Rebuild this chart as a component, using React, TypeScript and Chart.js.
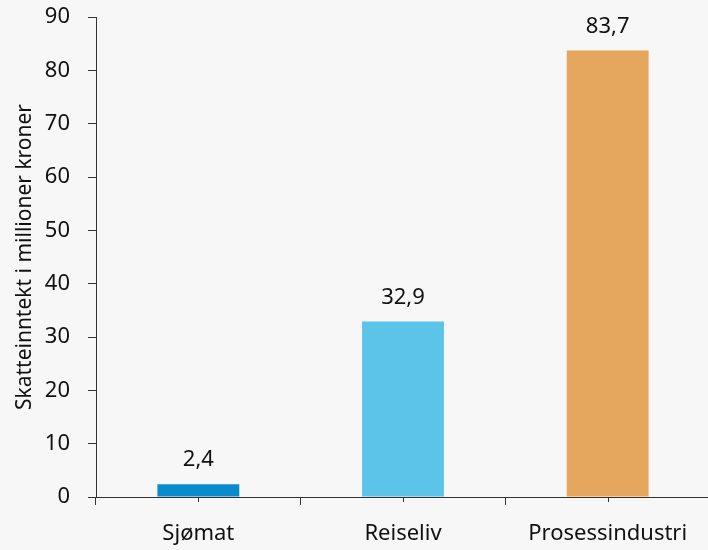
import React, { useEffect, useRef } from "react";
import { Chart, registerables } from "chart.js";

Chart.register(...registerables);

const categories = ["Sjømat", "Reiseliv", "Prosessindustri"];
const values = [2.4, 32.9, 83.7];
const barColors = ["#0a8bcd", "#5bc4e8", "#e5a75e"];
const yTitle = "Skatteinntekt i millioner kroner";

const FONT = "'Noto Sans', 'Open Sans', sans-serif";

const labelPlugin = {
  id: "valueLabels",
  afterDatasetsDraw(chart: any) {
    const ctx = chart.ctx;
    const meta = chart.getDatasetMeta(0);
    ctx.save();
    ctx.font = `22px ${FONT}`;
    ctx.fillStyle = "#111";
    ctx.textAlign = "center";
    ctx.textBaseline = "alphabetic";
    meta.data.forEach((bar: any, i: number) => {
      ctx.fillText(String(values[i]).replace(".", ","), bar.x, bar.y - 18);
    });
    ctx.restore();
  },
};

const centerTicks = {
  id: "centerTicks",
  afterDraw(chart: any) {
    const ctx = chart.ctx;
    const x = chart.scales.x;
    ctx.save();
    ctx.strokeStyle = "#333";
    ctx.lineWidth = 1;
    categories.forEach((_, i) => {
      const px = Math.round(x.getPixelForValue(i)) + 0.5;
      ctx.beginPath();
      ctx.moveTo(px, x.top);
      ctx.lineTo(px, x.top + 5);
      ctx.stroke();
    });
    ctx.restore();
  },
};

export default function App() {
  const ref = useRef<HTMLCanvasElement>(null);
  useEffect(() => {
    const chart = new Chart(ref.current!, {
      type: "bar",
      data: {
        labels: categories,
        datasets: [
          {
            data: values,
            backgroundColor: barColors,
            categoryPercentage: 1,
            barPercentage: 0.4,
          },
        ],
      },
      options: {
        animation: false,
        responsive: false,
        layout: { padding: { left: 0, right: 10, top: 17, bottom: 0 } },
        plugins: { legend: { display: false }, tooltip: { enabled: false } },
        scales: {
          x: {
            offset: true,
            afterFit(s: any) {
              s.height = 53;
              s.paddingLeft = 0;
              s.paddingRight = 0;
            },
            border: { display: true, color: "#333", width: 1 },
            grid: {
              offset: true,
              drawOnChartArea: false,
              drawTicks: true,
              tickLength: 8,
              color: "#333",
            },
            ticks: {
              color: "#111",
              font: { family: FONT, size: 22 },
              padding: 16,
            },
          },
          y: {
            min: 0,
            max: 90,
            afterFit(s: any) {
              s.width = 96;
              s.paddingTop = 0;
              s.paddingBottom = 0;
            },
            border: { display: true, color: "#333", width: 1 },
            grid: {
              drawOnChartArea: false,
              drawTicks: true,
              tickLength: 8,
              color: "#333",
            },
            ticks: {
              stepSize: 10,
              color: "#111",
              font: { family: FONT, size: 22 },
              padding: 18,
            },
            title: {
              display: true,
              text: yTitle,
              color: "#111",
              font: { family: FONT, size: 21 },
              padding: { top: 12, bottom: 0 },
            },
          },
        },
      },
      plugins: [labelPlugin, centerTicks],
    });
    return () => chart.destroy();
  }, []);
  return (
    <div
      style={{
        position: "fixed",
        left: 0,
        top: 0,
        width: 708,
        height: 550,
        overflow: "hidden",
        background: "#f7f7f7",
      }}
    >
      <canvas ref={ref} width={720} height={550} style={{ width: 720, height: 550, display: "block" }} />
    </div>
  );
}
